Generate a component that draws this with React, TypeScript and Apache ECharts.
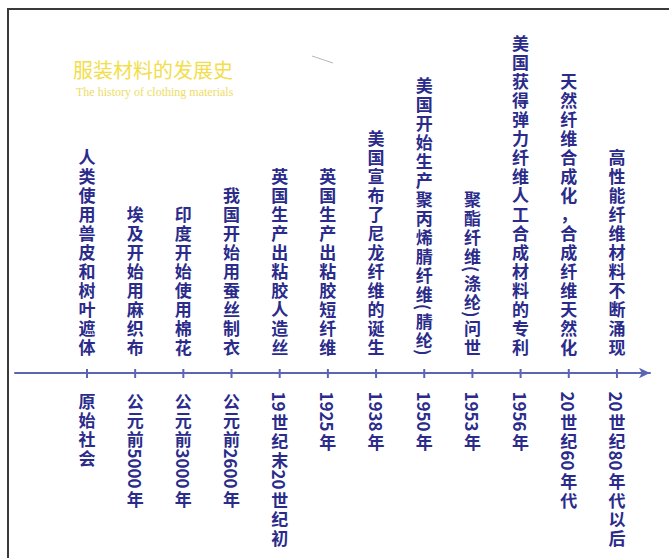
import React, { useEffect, useRef } from "react";
import * as echarts from "echarts";

// Timeline data
const periods: string[] = [
  "原始社会",
  "公元前5000年",
  "公元前3000年",
  "公元前2600年",
  "19世纪末20世纪初",
  "1925年",
  "1938年",
  "1950年",
  "1953年",
  "1956年",
  "20世纪60年代",
  "20世纪80年代以后",
];

const events: string[] = [
  "人类使用兽皮和树叶遮体",
  "埃及开始用麻织布",
  "印度开始使用棉花",
  "我国开始用蚕丝制衣",
  "英国生产出粘胶人造丝",
  "英国生产出粘胶短纤维",
  "美国宣布了尼龙纤维的诞生",
  "美国开始生产聚丙烯腈纤维(腈纶)",
  "聚酯纤维(涤纶)问世",
  "美国获得弹力纤维人工合成材料的专利",
  "天然纤维合成化，合成纤维天然化",
  "高性能纤维材料不断涌现",
];

const titleText = "服装材料的发展史";
const subtitleText = "The history of clothing materials";

const TEXT_COLOR = "#2a2b8a";
const AXIS_COLOR = "#5a66b4";
const FONT_SIZE = 17;
const STEP = 19;
const FONT_FAMILY = '"Noto Sans CJK SC", "Noto Sans", sans-serif';
const FONT = `bold ${FONT_SIZE}px ${FONT_FAMILY}`;

let measureCtx: CanvasRenderingContext2D | null = null;
function measure(s: string): number {
  if (!measureCtx) {
    const c = document.createElement("canvas");
    measureCtx = c.getContext("2d");
  }
  if (!measureCtx) return s.length * 10;
  measureCtx.font = FONT;
  return measureCtx.measureText(s).width;
}

type Seg = { text: string; rotated: boolean; h: number };

// Split a label into upright CJK runs (one char per line) and rotated ASCII runs
function segments(label: string): Seg[] {
  const out: Seg[] = [];
  const re = /[\x00-\x7F]+|[^\x00-\x7F]+/g;
  let m: RegExpExecArray | null;
  while ((m = re.exec(label))) {
    const t = m[0];
    if (/^[\x00-\x7F]+$/.test(t)) {
      out.push({ text: t, rotated: true, h: measure(t) + 1 });
    } else {
      const chars = Array.from(t);
      out.push({ text: chars.join("\n"), rotated: false, h: STEP * chars.length });
    }
  }
  return out;
}

function buildColumn(label: string, x: number, startY: number): any[] {
  const segs = segments(label);
  const els: any[] = [];
  let cy = startY;
  for (const s of segs) {
    els.push({
      type: "text",
      x,
      y: cy + s.h / 2,
      rotation: s.rotated ? -Math.PI / 2 : 0,
      style: {
        text: s.text,
        font: FONT,
        lineHeight: s.rotated ? 17 : STEP,
        fill: TEXT_COLOR,
        align: "center",
        verticalAlign: "middle",
      },
    });
    cy += s.h;
  }
  return els;
}

function columnHeight(label: string): number {
  return segments(label).reduce((a, s) => a + s.h, 0);
}

export default function App() {
  const ref = useRef<HTMLDivElement>(null);

  useEffect(() => {
    if (!ref.current) return;
    const chart = echarts.init(ref.current, null, { renderer: "svg" });

    const option: any = {
      animation: false,
      backgroundColor: "#ffffff",
      grid: { left: 15, right: 19, top: 20, bottom: 185, containLabel: false },
      xAxis: {
        type: "value",
        min: -1.494,
        max: 11.686,
        axisLabel: { show: false },
        axisTick: { show: false },
        splitLine: { show: false },
        axisLine: {
          show: true,
          symbol: ["none", "arrow"],
          symbolSize: [8, 11],
          lineStyle: { color: AXIS_COLOR, width: 2 },
        },
      },
      yAxis: {
        type: "value",
        min: 0,
        max: 1,
        show: false,
      },
      series: [
        {
          type: "custom",
          data: periods.map((_, i) => [i, 0]),
          renderItem: (_params: any, api: any) => {
            const i = api.value(0) as number;
            const [x, y] = api.coord([i, 0]);
            const children: any[] = [
              {
                type: "line",
                shape: { x1: x, y1: y - 4, x2: x, y2: y + 5 },
                style: { stroke: AXIS_COLOR, lineWidth: 2 },
              },
            ];
            const topLabel = events[i];
            const th = columnHeight(topLabel);
            children.push(...buildColumn(topLabel, x, y - 17 - th));
            children.push(...buildColumn(periods[i], x, y + 18));
            return { type: "group", children };
          },
        },
      ],
      graphic: [
        {
          type: "line",
          shape: { x1: 8, y1: 9, x2: 8, y2: 558 },
          style: { stroke: "#3a3a3a", lineWidth: 2 },
        },
        {
          type: "line",
          shape: { x1: 7, y1: 9, x2: 669, y2: 9 },
          style: { stroke: "#3a3a3a", lineWidth: 2 },
        },
        {
          type: "line",
          shape: { x1: 312, y1: 56, x2: 333, y2: 63 },
          style: { stroke: "#b8b8b8", lineWidth: 1 },
        },
        {
          type: "text",
          left: 73,
          top: 59,
          style: {
            text: titleText,
            font: `normal 20px "Noto Sans CJK SC", serif`,
            fill: "#f2de4a",
          },
        },
        {
          type: "text",
          left: 76,
          top: 86,
          style: {
            text: subtitleText,
            font: `normal 12px "Liberation Serif", serif`,
            fill: "#eedc66",
          },
        },
      ],
    };

    chart.setOption(option);
    return () => chart.dispose();
  }, []);

  return (
    <div
      ref={ref}
      style={{ position: "absolute", left: 0, top: 0, width: 669, height: 558 }}
    />
  );
}
